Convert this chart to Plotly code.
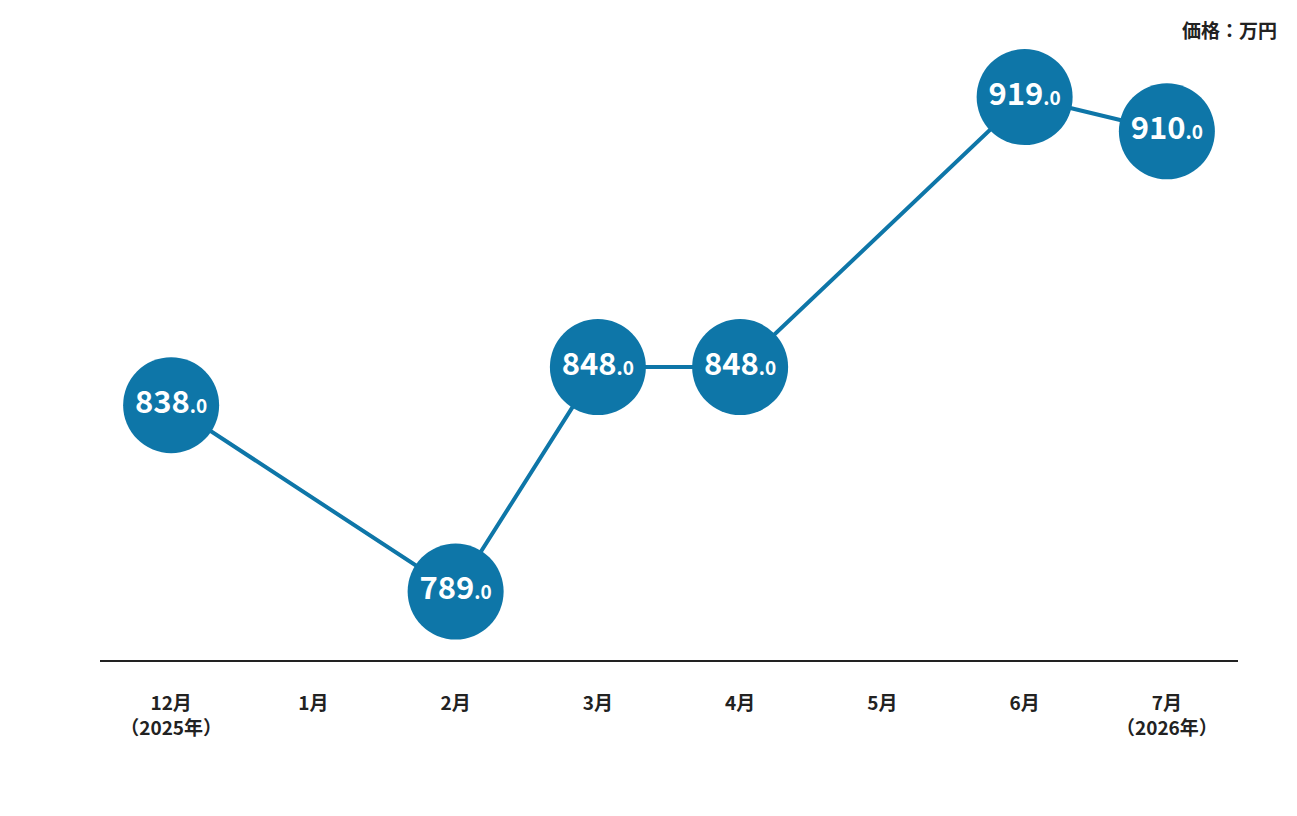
import plotly.graph_objects as go

# 価格推移（万円）
months = ["12月<br>（2025年）", "1月", "2月", "3月", "4月", "5月", "6月", "7月<br>（2026年）"]
prices = [838.0, None, 789.0, 848.0, 848.0, None, 919.0, 910.0]

blue = "#0e76a8"
font_family = "Noto Sans CJK JP, Noto Sans, sans-serif"


def _label(v):
    if v is None:
        return ""
    whole, frac = f"{v:.1f}".split(".")
    return f"<b>{whole}</b><b><span style='font-size:19px'>.{frac}</span></b>"


def _bold(s):
    return "<br>".join(f"<b>{part}</b>" for part in s.split("<br>"))


fig = go.Figure()
fig.add_trace(
    go.Scatter(
        x=months,
        y=prices,
        mode="lines+markers+text",
        connectgaps=True,
        line=dict(color=blue, width=4),
        marker=dict(size=96, color=blue, line=dict(width=0)),
        text=[_label(v) for v in prices],
        textposition="middle center",
        textfont=dict(color="white", size=31, family=font_family),
        hoverinfo="skip",
        cliponaxis=False,
    )
)

fig.add_annotation(
    text="<b>価格：万円</b>",
    xref="paper",
    yref="paper",
    x=1.034,
    y=1.0,
    xanchor="right",
    yanchor="middle",
    showarrow=False,
    font=dict(size=19, color="#222222", family=font_family),
    xshift=2,
    yshift=11,
)

fig.update_layout(
    width=1297,
    height=816,
    template="plotly_white",
    plot_bgcolor="white",
    paper_bgcolor="white",
    showlegend=False,
    margin=dict(l=92, r=67, t=32, b=164),
    font=dict(family=font_family),
)
fig.update_xaxes(
    type="category",
    range=[-0.5, 7.5],
    tickvals=months,
    ticktext=[_bold(m) for m in months],
    showgrid=False,
    zeroline=False,
    showline=True,
    linecolor="#222222",
    linewidth=2,
    ticks="outside",
    ticklen=0,
    ticklabelstandoff=25,
    tickfont=dict(size=19, color="#222222", family=font_family),
)
fig.update_yaxes(
    range=[771, 934],
    visible=False,
    showgrid=False,
    zeroline=False,
)

fig.write_html("out.html")
